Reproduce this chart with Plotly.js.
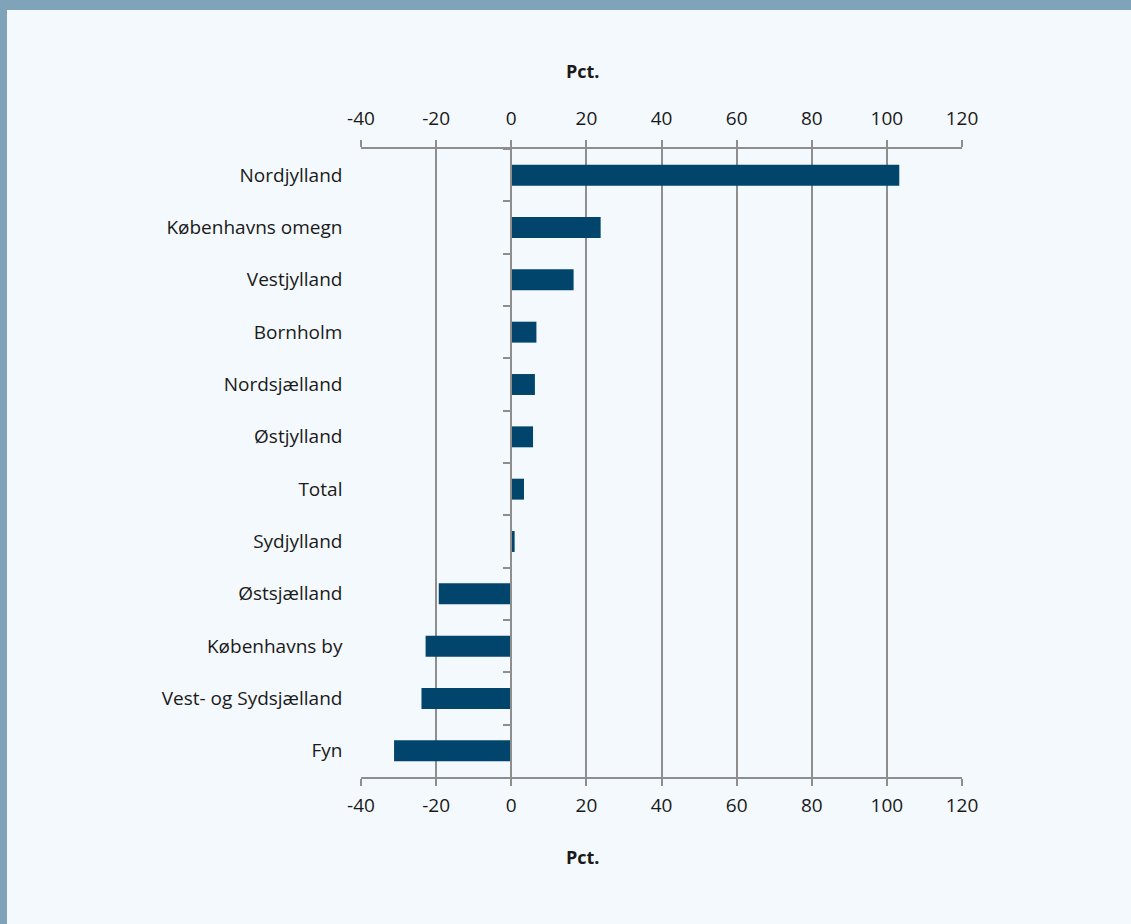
<!DOCTYPE html>
<html>
<head>
<meta charset="utf-8">
<script src="https://cdn.plot.ly/plotly-3.0.1.min.js"></script>
<style>
  html, body { margin: 0; padding: 0; width: 1131px; height: 924px; overflow: hidden; background: #7fa3b8; }
  #chart { position: absolute; left: 7px; top: 10px; width: 1124px; height: 914px; }
</style>
</head>
<body>
<div id="chart"></div>
<script>
const categories = ["Nordjylland", "Københavns omegn", "Vestjylland", "Bornholm", "Nordsjælland",
  "Østjylland", "Total", "Sydjylland", "Østsjælland", "Københavns by", "Vest- og Sydsjælland", "Fyn"];
const values = [103.3, 23.8, 16.6, 6.7, 6.3, 5.8, 3.4, 0.9, -19.3, -22.8, -23.9, -31.2];
const tickValues = [-40, -20, 0, 20, 40, 60, 80, 100, 120];
const axisTitle = "Pct.";

const gridColor = "#8e8e8e";
const barColor = "#02456c";
const font = { family: "Open Sans, Noto Sans, sans-serif", size: 19, color: "#1a1a1a" };

const traces = [
  {
    type: "bar", orientation: "h",
    x: values, y: categories,
    marker: { color: barColor, line: { width: 0 } },
    width: 0.4,
    hoverinfo: "x+y"
  },
  {
    type: "scatter", mode: "none",
    x: values, y: categories,
    xaxis: "x2", yaxis: "y",
    hoverinfo: "skip", showlegend: false
  }
];

const xCommon = {
  range: [-40, 120],
  tickmode: "array", tickvals: tickValues,
  ticktext: tickValues.map(String),
  showline: true, linecolor: gridColor, linewidth: 2,
  ticks: "outside", ticklen: 7, tickwidth: 2, tickcolor: gridColor,
  tickfont: font,
  zeroline: false
};

const layout = {
  width: 1124, height: 914,
  margin: { l: 354, r: 169, t: 139, b: 147 },
  paper_bgcolor: "#f4f9fd",
  plot_bgcolor: "rgba(0,0,0,0)",
  font: font,
  showlegend: false,
  xaxis: Object.assign({}, xCommon, {
    side: "bottom", anchor: "y",
    showgrid: true, gridcolor: gridColor, gridwidth: 2,
    ticklabelstandoff: 3
  }),
  xaxis2: Object.assign({}, xCommon, {
    side: "top", overlaying: "x", anchor: "y", matches: "x",
    showgrid: false,
    ticklabelstandoff: 7
  }),
  yaxis: {
    type: "category",
    categoryorder: "array", categoryarray: categories,
    range: [categories.length - 0.5, -0.5],
    anchor: "free", position: 0.25,
    showline: true, linecolor: gridColor, linewidth: 2,
    ticks: "outside", tickson: "boundaries", ticklen: 7, tickwidth: 2, tickcolor: gridColor,
    showgrid: false, zeroline: false,
    tickfont: font,
    ticklabelstandoff: 164
  },
  annotations: [
    { text: "<b>" + axisTitle + "</b>", xref: "paper", yref: "paper", x: 0.37, y: 1, yshift: 78,
      showarrow: false, font: { family: font.family, size: 18, color: "#1a1a1a" }, xanchor: "center", yanchor: "middle" },
    { text: "<b>" + axisTitle + "</b>", xref: "paper", yref: "paper", x: 0.37, y: 0, yshift: -80,
      showarrow: false, font: { family: font.family, size: 18, color: "#1a1a1a" }, xanchor: "center", yanchor: "middle" }
  ]
};

Plotly.newPlot("chart", traces, layout, { displayModeBar: false, staticPlot: true });
</script>
</body>
</html>
